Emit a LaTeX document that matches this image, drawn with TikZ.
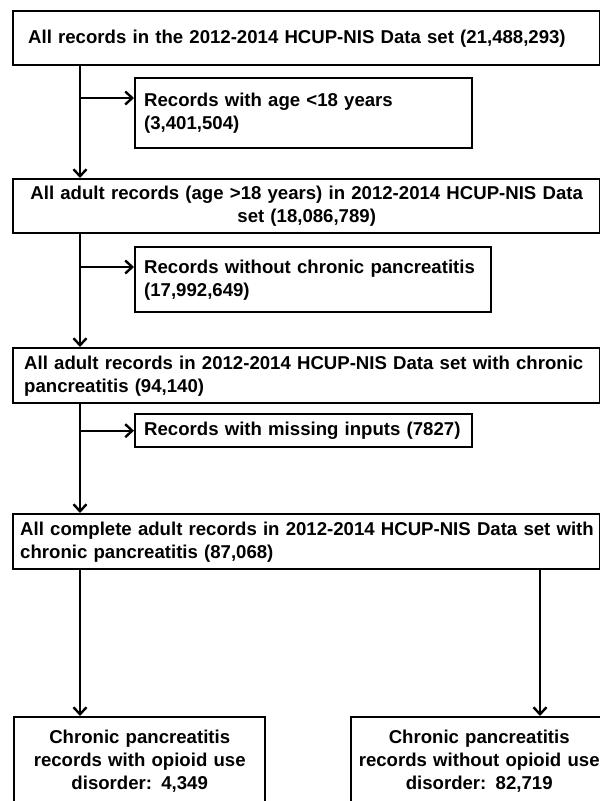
\documentclass[tikz,border=0pt]{standalone}
\usepackage{fontspec}
\setmainfont{Liberation Sans}
\usetikzlibrary{arrows.meta}
\tikzstyle{wide} = [rectangle, draw, line width=2.4pt, anchor=north west,
    text width=565pt, inner xsep=11pt, inner ysep=0pt, minimum height=55pt, align=left]
\tikzstyle{side} = [rectangle, draw, line width=2.4pt, anchor=north west,
    inner xsep=9pt, inner ysep=0pt, align=left]
\tikzstyle{leaf} = [rectangle, draw, line width=2.4pt, anchor=north west,
    text width=245pt, inner xsep=3pt, minimum height=88pt, align=center]
\tikzstyle{line} = [draw, line width=2.4pt, -{Straight Barb[length=7pt,width=13pt]}]

\begin{document}
\begin{tikzpicture}[x=1pt, y=-1pt, font=\bfseries\fontsize{18.6}{23}\selectfont]
    \clip (0,0) rectangle (600,801);

    % Place nodes
    \node [wide, inner xsep=15pt, text width=557pt, minimum height=54pt] (all) at (12,10)
        {All records in the 2012-2014 HCUP-NIS Data set (21,488,293)};
    \node [side, text width=319pt, minimum height=70pt] (minor) at (134,77)
        {Records with age <18 years\\(3,401,504)};
    \node [wide, align=center, minimum height=54pt] (adult) at (12,178)
        {All adult records (age >18 years) in 2012-2014 HCUP-NIS Data\\set (18,086,789)};
    \node [side, text width=338pt, minimum height=65pt] (nochronic) at (134,246)
        {Records without chronic pancreatitis\\(17,992,649)};
    \node [wide] (chronic) at (12,347)
        {All adult records in 2012-2014 HCUP-NIS Data set with chronic\\pancreatitis (94,140)};
    \node [side, text width=319pt, minimum height=33pt] (missing) at (134,413)
        {Records with missing inputs (7827)};
    \node [wide, inner xsep=7pt, text width=573pt] (complete) at (12,513)
        {\mbox{All complete adult records in 2012-2014 HCUP-NIS Data set with}\\chronic pancreatitis (87,068)};
    \node [leaf] (opioid) at (13,716)
        {Chronic pancreatitis\\records with opioid use\\disorder: 4,349};
    \node [leaf, text width=250pt] (noopioid) at (350,716)
        {Chronic pancreatitis\\records without opioid use\\disorder: 82,719};
    \coordinate (trunk) at (80,0);
    \coordinate (split) at (540,0);

    % Draw edges
    \path [line] (all.south -| trunk) -- (adult.north -| trunk);
    \path [line] ([yshift=-21pt]trunk |- minor.north) -- ([yshift=-21pt]minor.north west);
    \path [line] (adult.south -| trunk) -- (chronic.north -| trunk);
    \path [line] ([yshift=-21pt]trunk |- nochronic.north) -- ([yshift=-21pt]nochronic.north west);
    \path [line] (chronic.south -| trunk) -- (complete.north -| trunk);
    \path [line] (trunk |- missing.west) -- (missing.west);
    \path [line] (complete.south -| trunk) -- (opioid.north -| trunk);
    \path [line] (complete.south -| split) -- (noopioid.north -| split);
\end{tikzpicture}
\end{document}
